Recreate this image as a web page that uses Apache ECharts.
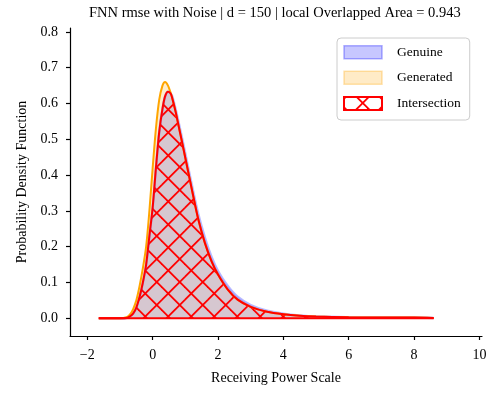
<!DOCTYPE html>
<html><head><meta charset="utf-8">
<script src="https://cdn.jsdelivr.net/npm/echarts@6/dist/echarts.min.js"></script>
<style>html,body{margin:0;padding:0;background:#fff}#c{width:498px;height:394px}</style>
</head><body><div id="c"></div>
<script>
const titleText = 'FNN rmse with Noise | d = 150 | local Overlapped Area = 0.943';
const xName = 'Receiving Power Scale';
const yName = 'Probability Density Function';
const seriesNames = ['Genuine', 'Generated', 'Intersection'];
const xTicks = [-2, 0, 2, 4, 6, 8, 10];
const yTicks = [0, 0.1, 0.2, 0.3, 0.4, 0.5, 0.6, 0.7, 0.8];

const xValues = [-1.65, -1.0, -0.8, -0.7, -0.6, -0.5, -0.4, -0.3, -0.2, -0.1,
  0.0, 0.1, 0.2, 0.3, 0.38, 0.47, 0.55, 0.6, 0.7, 0.8,
  0.9, 1.0, 1.2, 1.4, 1.6, 1.8, 2.0, 2.3, 2.6, 3.0,
  3.5, 4.0, 4.5, 5.0, 6.0, 7.0, 8.0, 8.6];
const genuine = [0, 0, 0.001, 0.005, 0.013, 0.03, 0.06, 0.1, 0.15, 0.23,
  0.31, 0.42, 0.52, 0.585, 0.62, 0.633, 0.628, 0.62, 0.585, 0.545,
  0.503, 0.46, 0.372, 0.29, 0.225, 0.172, 0.132, 0.09, 0.06, 0.037,
  0.021, 0.013, 0.008, 0.005, 0.003, 0.002, 0.002, 0.001];
const generated = [0, 0, 0.003, 0.01, 0.025, 0.05, 0.09, 0.14, 0.2, 0.3,
  0.42, 0.53, 0.61, 0.65, 0.66, 0.65, 0.63, 0.615, 0.578, 0.535,
  0.492, 0.448, 0.36, 0.275, 0.21, 0.16, 0.122, 0.08, 0.052, 0.032,
  0.018, 0.011, 0.007, 0.005, 0.003, 0.002, 0.002, 0.001];
const intersection = [0, 0, 0.001, 0.005, 0.013, 0.03, 0.06, 0.1, 0.15, 0.23,
  0.31, 0.42, 0.52, 0.585, 0.62, 0.633, 0.628, 0.615, 0.578, 0.535,
  0.492, 0.448, 0.36, 0.275, 0.21, 0.16, 0.122, 0.08, 0.052, 0.032,
  0.018, 0.011, 0.007, 0.005, 0.003, 0.002, 0.002, 0.001];

function pairs(ys) { return xValues.map(function (x, i) { return [x, ys[i]]; }); }

function makeHatch(size, ox, oy, lw) {
  const c = document.createElement('canvas');
  c.width = size; c.height = size;
  const g = c.getContext('2d');
  g.strokeStyle = '#ff0000'; g.lineWidth = lw;
  for (let k = -4; k <= 4; k++) {
    g.beginPath(); g.moveTo(ox + k * size - 3 * size, oy - 3 * size); g.lineTo(ox + k * size + 3 * size, oy + 3 * size); g.stroke();
    g.beginPath(); g.moveTo(ox + k * size + 3 * size, oy - 3 * size); g.lineTo(ox + k * size - 3 * size, oy + 3 * size); g.stroke();
  }
  return c;
}
const hatch = { image: makeHatch(23, 18.7, 6, 1.8), repeat: 'repeat' };

const FONT = '"Liberation Serif", "Times New Roman", serif';
const SMOOTH = 0.3;

const chart = echarts.init(document.getElementById('c'), null, { renderer: 'canvas' });
chart.setOption({
  animation: false,
  backgroundColor: '#fff',
  title: {
    text: titleText, left: 89, top: 6, padding: 0,
    textStyle: { fontFamily: FONT, fontSize: 14.5, fontWeight: 'normal', color: '#000' }
  },
  grid: { left: 70, right: 16, top: 28, bottom: 58, containLabel: false },
  legend: {
    orient: 'vertical', left: 337, top: 38,
    padding: [7, 9, 9, 6],
    backgroundColor: '#fff', borderColor: '#cccccc', borderWidth: 1, borderRadius: 4,
    itemWidth: 38, itemHeight: 13, itemGap: 11,
    textStyle: { fontFamily: FONT, fontSize: 13.5, color: '#000', padding: [0, 0, 0, 10], lineHeight: 14 },
    data: [
      { name: seriesNames[0], icon: 'rect', itemStyle: { color: 'rgba(0,0,255,0.22)', borderColor: 'rgba(0,0,255,0.3)', borderWidth: 1.5 } },
      { name: seriesNames[1], icon: 'rect', itemStyle: { color: 'rgba(255,165,0,0.22)', borderColor: 'rgba(255,165,0,0.3)', borderWidth: 1.5 } },
      { name: seriesNames[2], icon: 'rect', itemStyle: { color: hatch, borderColor: '#ff0000', borderWidth: 2 } }
    ]
  },
  xAxis: {
    type: 'value', min: -2.53, max: 10.08,
    name: xName, nameLocation: 'middle', nameGap: 35,
    nameTextStyle: { fontFamily: FONT, fontSize: 14, color: '#000' },
    axisLine: { onZero: false, lineStyle: { color: '#000', width: 1.2 } },
    axisTick: { customValues: xTicks, length: 4, lineStyle: { color: '#000', width: 1.2 } },
    axisLabel: {
      customValues: xTicks, margin: 12, fontFamily: FONT, fontSize: 14, color: '#000',
      formatter: function (v) { return v < 0 ? '\u2212' + (-v) : String(v); }
    },
    splitLine: { show: false }
  },
  yAxis: {
    type: 'value', min: -0.0495, max: 0.811,
    name: yName, nameLocation: 'middle', nameGap: 41,
    nameTextStyle: { fontFamily: FONT, fontSize: 14, color: '#000' },
    axisLine: { show: true, onZero: false, lineStyle: { color: '#000', width: 1.2 } },
    axisTick: { show: true, customValues: yTicks, length: 4, lineStyle: { color: '#000', width: 1.2 } },
    axisLabel: {
      customValues: yTicks, margin: 12, fontFamily: FONT, fontSize: 14, color: '#000',
      formatter: function (v) { return v.toFixed(1); }
    },
    splitLine: { show: false }
  },
  series: [
    {
      name: seriesNames[0], type: 'line', data: pairs(genuine), smooth: SMOOTH, showSymbol: false,
      lineStyle: { color: 'rgba(80,80,255,0.4)', width: 2.5 },
      itemStyle: { color: 'rgba(0,0,255,0.22)' },
      areaStyle: { color: 'rgba(0,0,255,0.2)', opacity: 1 }
    },
    {
      name: seriesNames[1], type: 'line', data: pairs(generated), smooth: SMOOTH, showSymbol: false,
      lineStyle: { color: '#ffa500', width: 2 },
      itemStyle: { color: 'rgba(255,165,0,0.22)' },
      areaStyle: { color: 'rgba(255,165,0,0.2)', opacity: 1 }
    },
    {
      name: 'intersection-fill', type: 'line', data: pairs(intersection), smooth: SMOOTH, showSymbol: false,
      lineStyle: { width: 0, opacity: 0 },
      areaStyle: { color: '#d6c7d0', opacity: 1 }
    },
    {
      name: seriesNames[2], type: 'line', data: pairs(intersection), smooth: SMOOTH, showSymbol: false,
      lineStyle: { color: '#ff0000', width: 2 },
      itemStyle: { color: '#ff0000' },
      areaStyle: { color: hatch, opacity: 1 }
    },
    {
      name: 'intersection-base', type: 'line', showSymbol: false,
      data: [[xValues[0], 0], [xValues[xValues.length - 1], 0]],
      lineStyle: { color: '#ff0000', width: 2 }
    }
  ]
});
</script>
</body></html>
